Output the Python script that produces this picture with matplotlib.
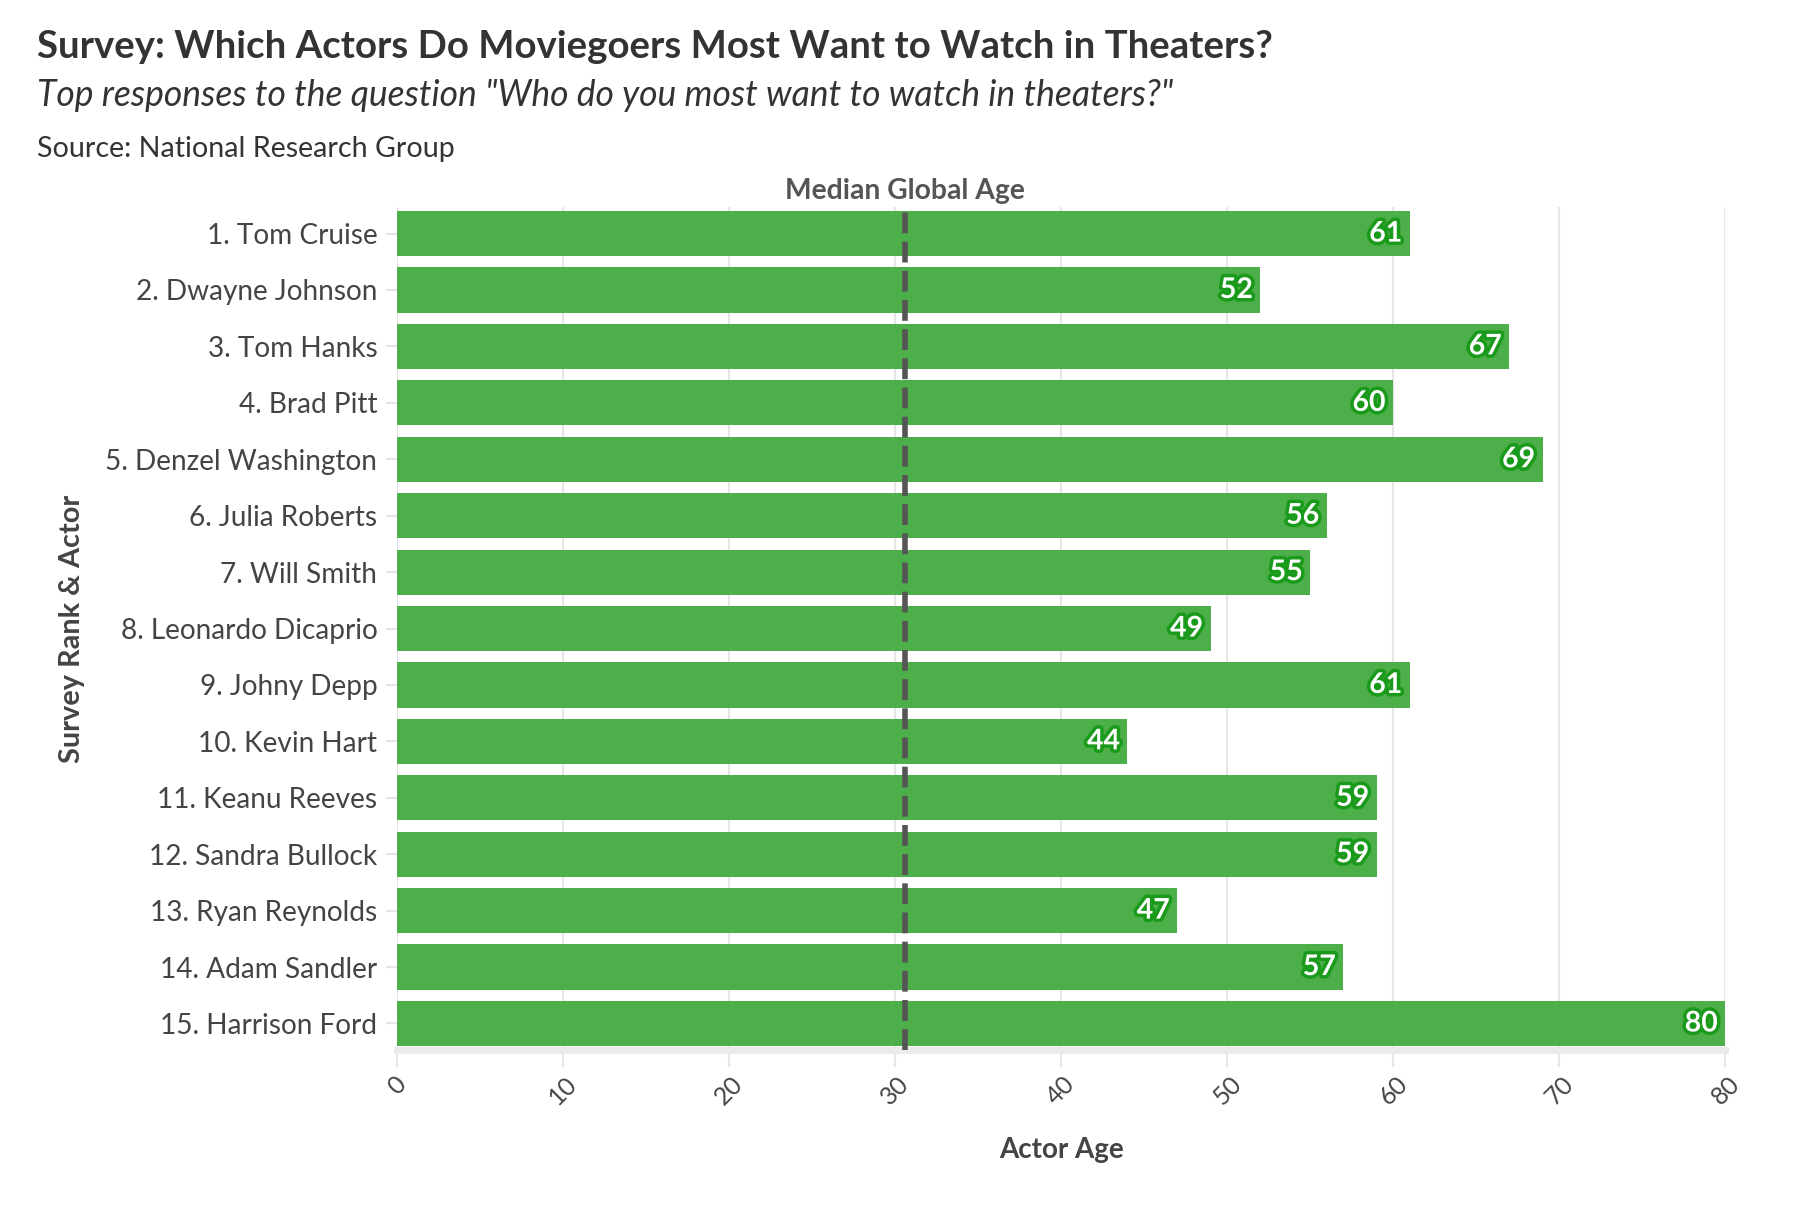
import matplotlib

matplotlib.use("Agg")
import matplotlib.pyplot as plt
import matplotlib.patheffects as pe

# data
actors = [
    "1. Tom Cruise",
    "2. Dwayne Johnson",
    "3. Tom Hanks",
    "4. Brad Pitt",
    "5. Denzel Washington",
    "6. Julia Roberts",
    "7. Will Smith",
    "8. Leonardo Dicaprio",
    "9. Johny Depp",
    "10. Kevin Hart",
    "11. Keanu Reeves",
    "12. Sandra Bullock",
    "13. Ryan Reynolds",
    "14. Adam Sandler",
    "15. Harrison Ford",
]
ages = [61, 52, 67, 60, 69, 56, 55, 49, 61, 44, 59, 59, 47, 57, 80]
median_age = 30.6
x_ticks = [0, 10, 20, 30, 40, 50, 60, 70, 80]

BAR = "#4daf4a"
EDGE = "#1a9a1a"
DARK = "#333333"
GRAY = "#444444"

plt.rcParams["font.family"] = ["Lato", "DejaVu Sans"]
plt.rcParams["lines.scale_dashes"] = False

fig = plt.figure(figsize=(18.2, 12.08), dpi=100)
ax = fig.add_axes([0.218, 0.1308, 0.730, 0.6978])

pos = list(range(len(actors)))
ax.barh(pos, ages, height=0.8, color=BAR, zorder=2)

for y, v in zip(pos, ages):
    ax.text(v - 0.45, y, str(v), ha="right", va="center", color="white",
            fontsize=20.5, fontweight="bold", zorder=4,
            path_effects=[pe.withStroke(linewidth=5, foreground=EDGE)])

ax.axvline(median_age, color="#555555", lw=4, dashes=(15, 6), zorder=3)
ax.text(median_age, -0.52, "Median Global Age", ha="center", va="bottom",
        fontsize=20.3, fontweight="bold", color="#555555")

ax.set_xlim(0, 80)
ax.set_ylim(14.47, -0.47)
ax.set_yticks(pos)
ax.set_yticklabels(actors, fontsize=20.2, color=GRAY)
ax.set_xticks(x_ticks)
ax.set_xticklabels([str(t) for t in x_ticks], rotation=45, ha="center",
                   fontsize=18, color=GRAY)
ax.tick_params(axis="y", length=8, width=1.5, color="#e6e6e6", pad=6)
ax.tick_params(axis="x", length=12, width=1.5, color="#e6e6e6", pad=4)

ax.grid(axis="x", color="#e6e6e6", lw=1.5, zorder=0)
for side in ["top", "right", "left"]:
    ax.spines[side].set_visible(False)
ax.spines["bottom"].set_color("#ebebeb")
ax.spines["bottom"].set_linewidth(5)

ax.set_xlabel("Actor Age", fontsize=20, fontweight="bold", color=GRAY,
              labelpad=20)
ax.set_ylabel("Survey Rank & Actor", fontsize=20.8, fontweight="bold",
              color=GRAY)
ax.yaxis.set_label_coords(-0.235, 0.5)

fig.text(0.0203, 0.961, "Survey: Which Actors Do Moviegoers Most Want to Watch in Theaters?",
         fontsize=27.6, fontweight="bold", color=DARK, va="center")
fig.text(0.0203, 0.921, 'Top responses to the question "Who do you most want to watch in theaters?"',
         fontsize=25.6, style="italic", color=DARK, va="center")
fig.text(0.0203, 0.877, "Source: National Research Group",
         fontsize=20.6, color=DARK, va="center")

fig.savefig("out.png", dpi=100, facecolor="white")
